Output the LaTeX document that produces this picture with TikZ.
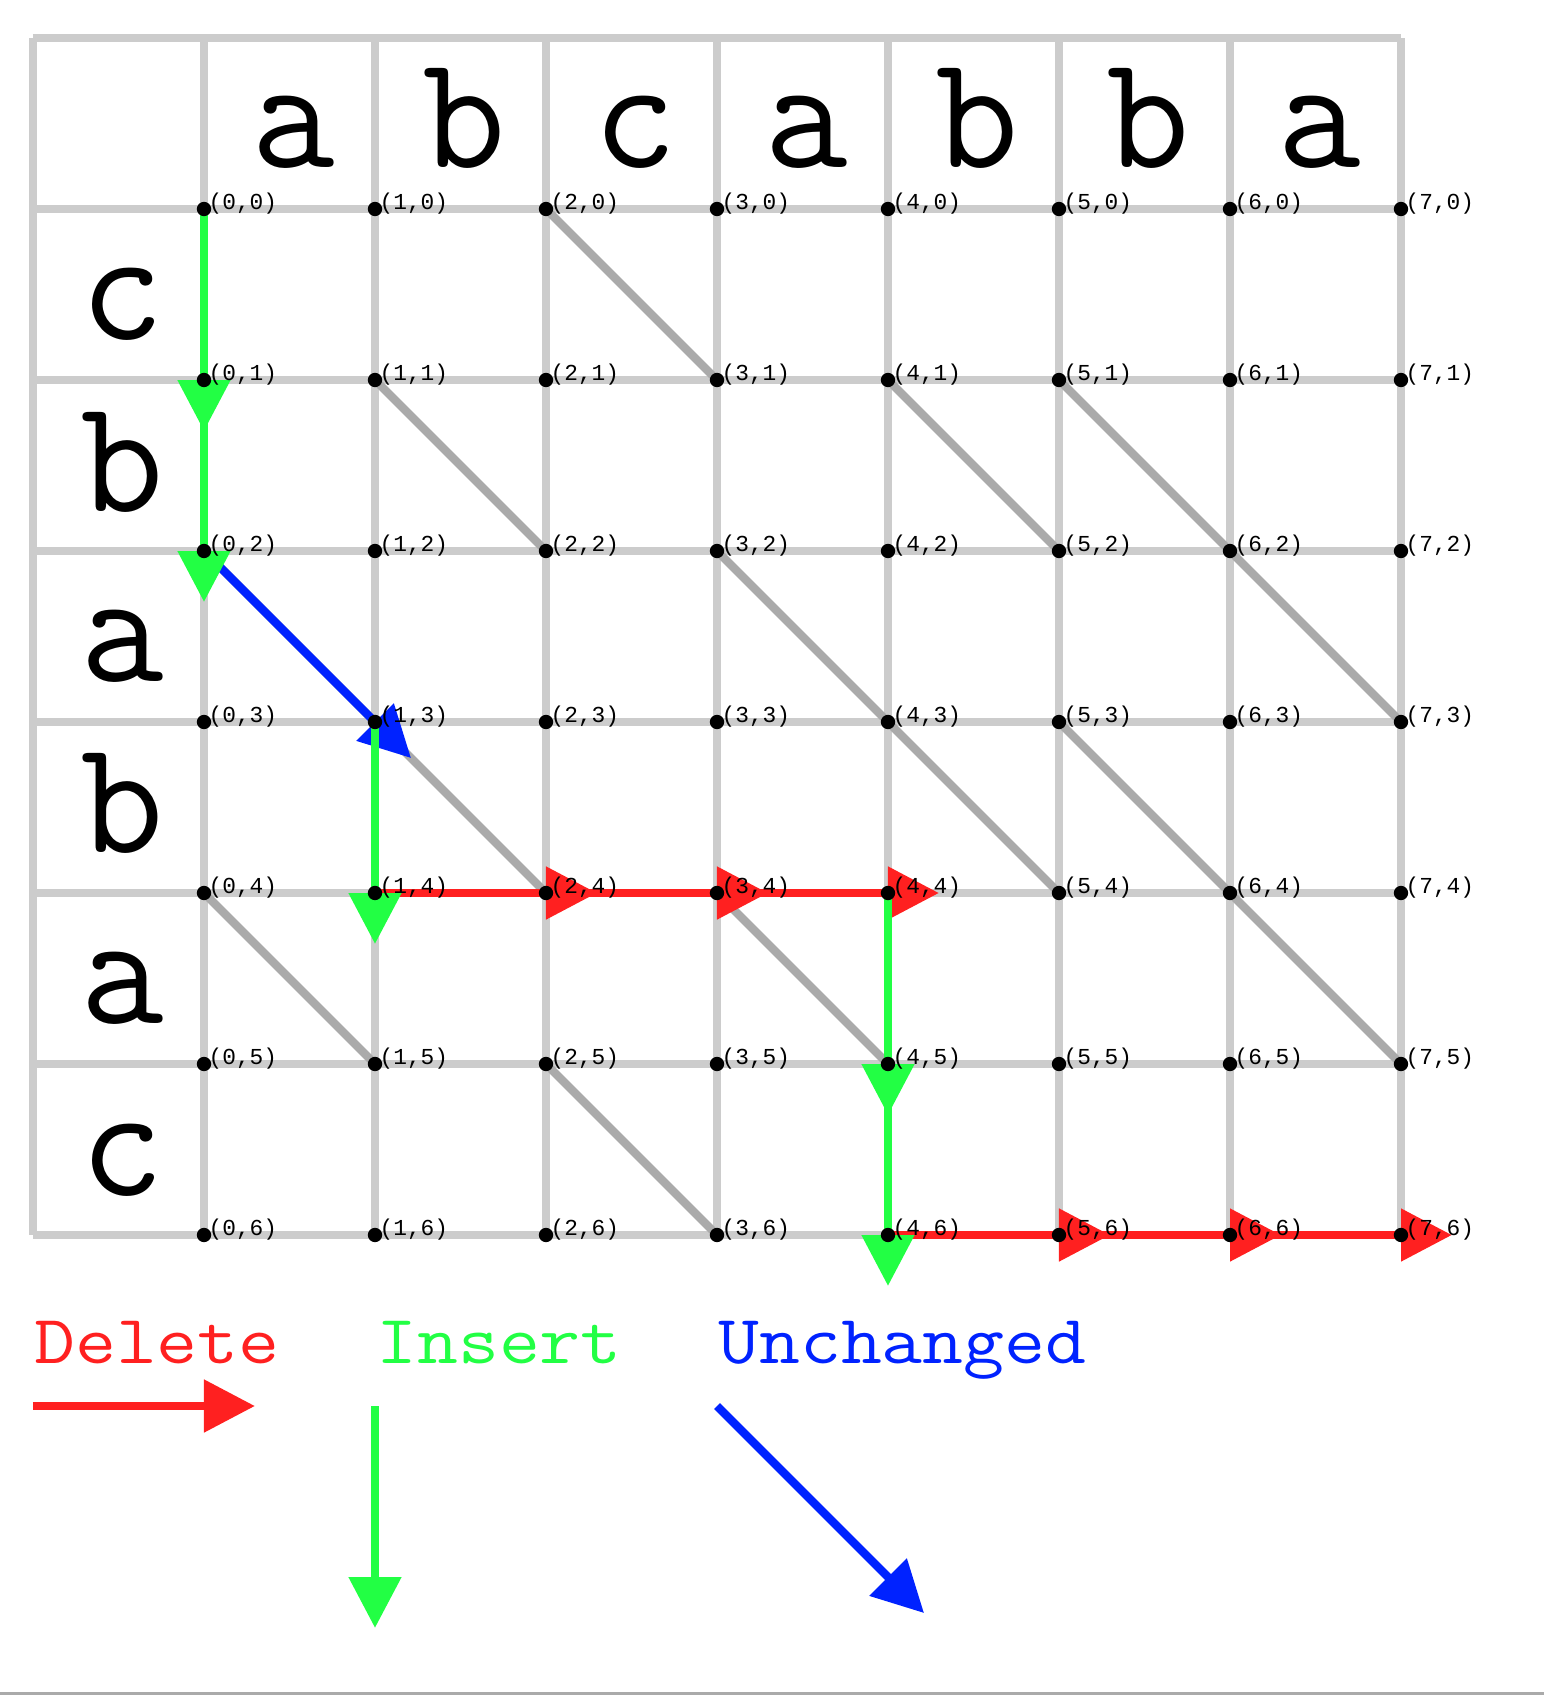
\documentclass[tikz,border=0pt]{standalone}
\usepackage{fontspec}
\usepackage{graphicx}
\newfontfamily\lblfont{Liberation Mono}
\usetikzlibrary{arrows.meta}
\definecolor{gridgray}{HTML}{CCCCCC}
\definecolor{diaggray}{HTML}{AAAAAA}
\definecolor{delred}{HTML}{FF2020}
\definecolor{insgreen}{HTML}{22FF44}
\definecolor{unchblue}{HTML}{0022FF}
\tikzset{
  gridline/.style={draw=gridgray, line width=1.4pt},
  diagline/.style={draw=diaggray, line width=1.4pt},
  arr/.style={line width=1.4pt, shorten >=-0.298cm, -{Triangle[length=0.298cm,width=0.298cm]}},
  delarr/.style={arr, draw=delred, fill=delred},
  insarr/.style={arr, draw=insgreen, fill=insgreen},
  uncharr/.style={arr, draw=unchblue, fill=unchblue},
  dot/.style={circle, fill=black, inner sep=0pt, minimum size=0.084cm},
  lbl/.style={anchor=base west, inner sep=0pt, font=\lblfont\fontsize{3.8}{4}\selectfont},
  big/.style={anchor=base, inner sep=0pt, text depth=0pt, font=\ttfamily\fontsize{27}{30}\selectfont},
  legendtext/.style={anchor=base west, inner sep=0pt, font=\ttfamily\fontsize{11.5}{13}\selectfont}
}
\begin{document}
\begin{tikzpicture}[x=1cm, y=-1cm]
\useasboundingbox (-1.19298,-1.22222) rectangle (7.83626,8.71930);
% named grid points
\foreach \i in {0,...,7}{
  \foreach \j in {0,...,6}{
    \coordinate (p\i\j) at (\i,\j);
  }
}
% grid
\foreach \x in {-1,...,7} \draw[gridline] (\x,-1) -- (\x,6);
\foreach \y in {-1,...,6} \draw[gridline] (-1,\y) -- (7,\y);
% matching diagonals
\foreach \a/\b in {20/31, 11/22, 41/52, 51/62, 02/13, 32/43, 62/73, 13/24, 43/54, 53/64, 04/15, 34/45, 64/75, 25/36}
  \draw[diagline] (p\a) -- (p\b);
% header letters
\foreach \c [count=\i] in {a,b,c,a,b,b,a}
  \node[big] (h\i) at (\i-0.48,-0.2456) {\c};
\foreach \c [count=\j] in {c,b,a,b,a,c}
  \node[big] (r\j) at (-0.475,\j-0.234) {\c};
% path arrows
\foreach \a/\b in {14/24, 24/34, 34/44, 46/56, 56/66, 66/76}
  \draw[delarr] (p\a) -- (p\b);
\draw[uncharr] (p02) -- (p13);
\foreach \a/\b in {00/01, 01/02, 13/14, 44/45, 45/46}
  \draw[insarr] (p\a) -- (p\b);
% dots and labels
\foreach \i in {0,...,7}{
  \foreach \j in {0,...,6}{
    \node[dot] (n\i\j) at (p\i\j) {};
    \node[lbl] (l\i\j) at ([xshift=0.02cm]p\i\j) {(\i,\j)};
  }
}
% legend
\node[legendtext, text=delred] (tdel) at (-1,6.749) {\scalebox{1.15}[1]{Delete}};
\node[legendtext, text=insgreen] (tins) at (1,6.749) {\scalebox{1.15}[1]{Insert}};
\node[legendtext, text=unchblue] (tunch) at (3,6.749) {\scalebox{1.15}[1]{Unchanged}};
\coordinate (la) at (-1,7);
\coordinate (lb) at (0,7);
\coordinate (lc) at (1,7);
\coordinate (ld) at (1,8);
\coordinate (le) at (3,7);
\coordinate (lf) at (4,8);
\draw[delarr] (la) -- (lb);
\draw[insarr] (lc) -- (ld);
\draw[uncharr] (le) -- (lf);
% bottom rule
\coordinate (bl) at (-1.19298,8.684);
\coordinate (br) at (7.83626,8.684);
\draw[draw=diaggray, line width=0.5pt] (bl) -- (br);
\end{tikzpicture}
\end{document}
